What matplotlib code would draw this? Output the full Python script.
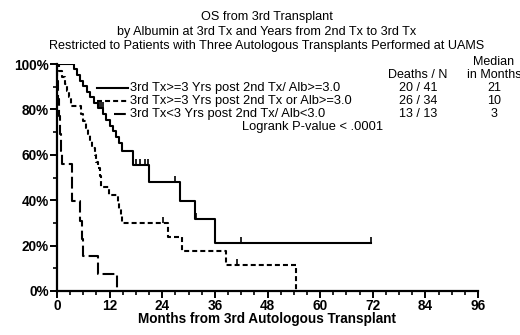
import numpy as np
import matplotlib
matplotlib.use("Agg")
import matplotlib.pyplot as plt
from matplotlib.lines import Line2D
from matplotlib.ticker import MultipleLocator, FuncFormatter

plt.rcParams['font.family'] = ['Liberation Sans', 'DejaVu Sans']
plt.rcParams['lines.scale_dashes'] = False

# --- data (months, % surviving) ---
title_lines = ["OS from 3rd Transplant",
               "by Albumin at 3rd Tx and Years from 2nd Tx to 3rd Tx",
               "Restricted to Patients with Three Autologous Transplants Performed at UAMS"]
group_labels = ["3rd Tx>=3 Yrs post 2nd Tx/ Alb>=3.0",
                "3rd Tx>=3 Yrs post 2nd Tx or Alb>=3.0",
                "3rd Tx<3 Yrs post 2nd Tx/ Alb<3.0"]
deaths_n = ["20 / 41", "26 / 34", "13 / 13"]
medians = ["21", "10", "3"]
pvalue_text = "Logrank P-value < .0001"

g1_t = [0, 3.9, 4.6, 5.2, 6.0, 6.8, 7.5, 8.4, 9.3, 10.5, 11.2, 12.0, 12.8, 13.5, 14.2,
        14.9, 17.3, 21.0, 28.0, 31.4, 36.0, 71.5]
g1_s = [100, 97.6, 95.1, 92.7, 90.2, 87.8, 85.4, 82.9, 80.4, 78.0, 75.4, 72.9, 70.3, 67.7,
        65.1, 61.5, 55.5, 48.0, 39.6, 31.7, 21.1, 21.1]
g1_cens_t = [9.6, 10.0, 10.4, 18.0, 18.9, 20.0, 20.7, 27.0, 31.6, 42.0, 71.5]
g1_cens_s = [80.4, 80.4, 80.4, 55.5, 55.5, 55.5, 55.5, 48.0, 31.7, 21.1, 21.1]

g2_t = [0, 0.5, 1.2, 1.8, 2.3, 2.8, 3.3, 5.5, 6.0, 6.6, 7.0, 7.5, 8.0, 8.6, 9.0, 9.4, 9.8,
        10.0, 11.8, 13.9, 14.2, 14.5, 14.8, 25.2, 28.6, 38.6, 54.5]
g2_s = [100, 97.1, 94.1, 91.2, 88.2, 85.3, 81.5, 78.0, 75.0, 72.0, 69.0, 66.0, 63.0, 60.0,
        57.0, 54.0, 50.5, 45.6, 42.3, 39.0, 36.0, 33.0, 30.0, 23.8, 17.8, 11.5, 0]
g2_cens_t = [24.1, 41.0]
g2_cens_s = [30.0, 11.5]

g3_t = [0, 0.1, 0.25, 0.4, 0.6, 0.8, 1.1, 3.4, 5.3, 5.7, 6.0, 9.3, 13.6]
g3_s = [100, 92.3, 84.6, 76.9, 69.2, 61.5, 56.0, 39.6, 31.0, 23.0, 15.5, 7.7, 0]

W, H = 520, 335


def fx(px):
    return px / W


def fy(py):
    return 1 - py / H


fig = plt.figure(figsize=(W / 100, H / 100), dpi=100)
ax = fig.add_axes([fx(57), fy(291), fx(478) - fx(57), fy(64) - fy(291)])

styles = [dict(linestyle='-'),
          dict(linestyle=(0, (3.6, 2.2))),
          dict(linestyle=(0, (8.5, 3.0)))]
lw = 1.5

ax.step(g1_t, g1_s, where='post', color='black', lw=lw, **styles[0])
ax.step(g2_t, g2_s, where='post', color='black', lw=lw, **styles[1])
ax.step(g3_t, g3_s, where='post', color='black', lw=lw, **styles[2])
ax.plot(g1_cens_t, g1_cens_s, ls='none', marker=2, ms=4, mew=1.2, color='black')
ax.plot(g2_cens_t, g2_cens_s, ls='none', marker=2, ms=4, mew=1.2, color='black')

ax.set_xlim(0, 96)
ax.set_ylim(0, 100)
for side in ['top', 'right']:
    ax.spines[side].set_visible(False)
for side in ['left', 'bottom']:
    ax.spines[side].set_linewidth(1.6)

ax.xaxis.set_major_locator(MultipleLocator(12))
ax.xaxis.set_minor_locator(MultipleLocator(3))
ax.yaxis.set_major_locator(MultipleLocator(20))
ax.yaxis.set_minor_locator(MultipleLocator(10))
ax.yaxis.set_major_formatter(FuncFormatter(lambda v, p: f"{int(v)}%"))
ax.tick_params(which='major', length=5, width=1.4, direction='out', pad=1)
ax.tick_params(which='minor', length=3, width=1.2, direction='out')
for lab in ax.get_xticklabels() + ax.get_yticklabels():
    lab.set_fontweight('bold')
    lab.set_fontsize(9.8)
ax.set_xlabel("Months from 3rd Autologous Transplant", fontsize=9.8, fontweight='bold',
              labelpad=-1)

# title
for i, line in enumerate(title_lines):
    fig.text(fx(267), fy(17 + 14.5 * i), line, ha='center', va='center', fontsize=9.1)

# legend block
row_y = [88, 101, 114]
seg = [(97, 128), (97, 128), (114, 128)]
for i in range(3):
    fig.add_artist(Line2D([fx(seg[i][0]), fx(seg[i][1])], [fy(row_y[i]), fy(row_y[i])],
                          transform=fig.transFigure, color='black', lw=lw, **styles[i]))
    fig.text(fx(130), fy(row_y[i]), group_labels[i], ha='left', va='center', fontsize=9.3)
    fig.text(fx(418), fy(row_y[i]), deaths_n[i], ha='center', va='center', fontsize=9)
    fig.text(fx(494), fy(row_y[i]), medians[i], ha='center', va='center', fontsize=9)
fig.text(fx(383), fy(127), pvalue_text, ha='right', va='center', fontsize=9.3)
fig.text(fx(418), fy(75), "Deaths / N", ha='center', va='center', fontsize=9)
fig.text(fx(494), fy(62), "Median", ha='center', va='center', fontsize=9)
fig.text(fx(494), fy(75), "in Months", ha='center', va='center', fontsize=9)

fig.savefig("out.png", dpi=100)
